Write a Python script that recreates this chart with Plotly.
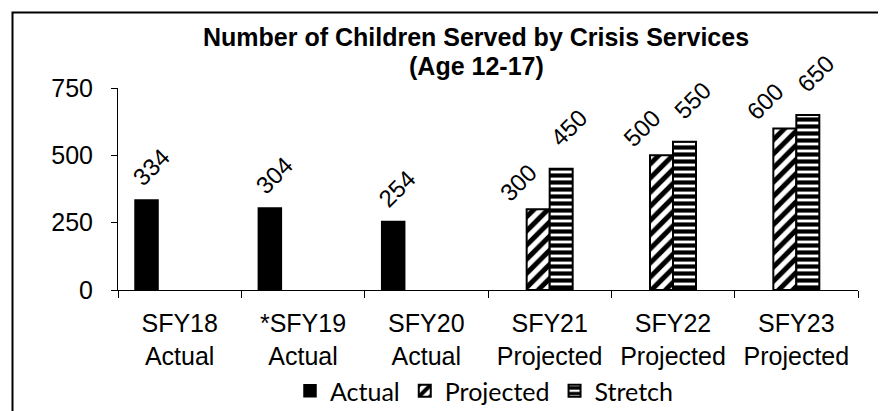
import plotly.graph_objects as go

# ---- data ----
categories = ["SFY18<br>Actual", "*SFY19<br>Actual", "SFY20<br>Actual",
              "SFY21<br>Projected", "SFY22<br>Projected", "SFY23<br>Projected"]
actual = [334, 304, 254, None, None, None]
projected = [None, None, None, 300, 500, 600]
stretch = [None, None, None, 450, 550, 650]
y_ticks = [0, 250, 500, 750]
title_lines = ["Number of Children Served by Crisis Services", "(Age 12-17)"]

# ---- layout constants (page pixels; page body has an 8px margin) ----
PAGE_W, PAGE_H = 886, 411
OFF = 8
W, H = PAGE_W - OFF, PAGE_H - OFF
AX_LEFT, AX_RIGHT, AX_TOP, AX_BOTTOM = 118, 858, 88, 290   # page px
L, R, T, B = AX_LEFT - OFF, PAGE_W - AX_RIGHT, AX_TOP - OFF, PAGE_H - AX_BOTTOM
PW, PH = W - L - R, H - T - B
BAR_W = 0.1865  # in category units

def px_x(px):
    return (px - AX_LEFT) / PW

def px_y(py):
    return (AX_BOTTOM - py) / PH

FAMILY = "Liberation Sans, Arial, sans-serif"
TICK_FONT = dict(family=FAMILY, size=25, color="black")
LABEL_FONT = dict(family=FAMILY, size=24, color="black")
TITLE_FONT = dict(family=FAMILY, size=25, color="black")

series = [
    dict(name="Actual", values=actual, offset=-0.362,
         marker=dict(color="black", line=dict(color="black", width=1.5)),
         dx=4, dy=-33),
    dict(name="Projected", values=projected, offset=-BAR_W,
         marker=dict(color="white", line=dict(color="black", width=2),
                     pattern=dict(shape="/", fgcolor="black", bgcolor="white",
                                  size=10, solidity=0.5, fgopacity=1)),
         dx=-20, dy=-27),
    dict(name="Stretch", values=stretch, offset=0.0,
         marker=dict(color="white", line=dict(color="black", width=2),
                     pattern=dict(shape="-", fgcolor="black", bgcolor="white",
                                  size=7, solidity=0.6, fgopacity=1)),
         dx=8, dy=-41),
]

fig = go.Figure()
annotations = []
for s in series:
    fig.add_trace(go.Bar(
        x=categories, y=s["values"], name=s["name"],
        width=BAR_W, offset=s["offset"], marker=s["marker"],
        hoverinfo="skip",
    ))
    for i, v in enumerate(s["values"]):
        if v is None:
            continue
        annotations.append(dict(
            x=i + s["offset"] + BAR_W / 2, y=v, xref="x", yref="y",
            text=str(v), showarrow=False, textangle=-45,
            xshift=s["dx"], yshift=-s["dy"],
            font=LABEL_FONT,
        ))

# title as two centred lines
for line, cy in zip(title_lines, [37, 66]):
    annotations.append(dict(
        x=px_x(476), y=px_y(cy), xref="paper", yref="paper",
        text="<b>" + line + "</b>", showarrow=False,
        xanchor="center", yanchor="middle", font=TITLE_FONT,
    ))

fig.update_layout(
    template="none",
    width=W, height=H,
    margin=dict(l=L, r=R, t=T, b=B, autoexpand=False),
    paper_bgcolor="white", plot_bgcolor="white",
    barmode="overlay",
    showlegend=True,
    legend=dict(
        orientation="h", x=px_x(484), xanchor="center",
        y=px_y(391), yanchor="middle",
        font=dict(family="Lato, sans-serif", size=25, color="black"),
        itemwidth=30, traceorder="normal",
        bgcolor="rgba(0,0,0,0)",
    ),
    xaxis=dict(
        showline=True, linecolor="black", linewidth=1,
        ticks="outside", tickson="boundaries", ticklen=7, tickcolor="black",
        tickfont=TICK_FONT, showgrid=False, zeroline=False,
        ticklabelstandoff=11, automargin=False,
    ),
    yaxis=dict(
        range=[0, 750], tickvals=y_ticks,
        showline=True, linecolor="black", linewidth=1,
        ticks="outside", ticklen=6, tickcolor="black",
        tickfont=TICK_FONT, showgrid=False, zeroline=False,
        ticklabelstandoff=13, automargin=False,
    ),
    annotations=annotations,
    shapes=[dict(
        type="rect", xref="paper", yref="paper",
        x0=px_x(12.5), x1=px_x(PAGE_W + 10), y0=px_y(PAGE_H + 10), y1=px_y(12.5),
        line=dict(color="black", width=2), fillcolor="rgba(0,0,0,0)",
        layer="below",
    )],
)

fig.write_html("out.html")
